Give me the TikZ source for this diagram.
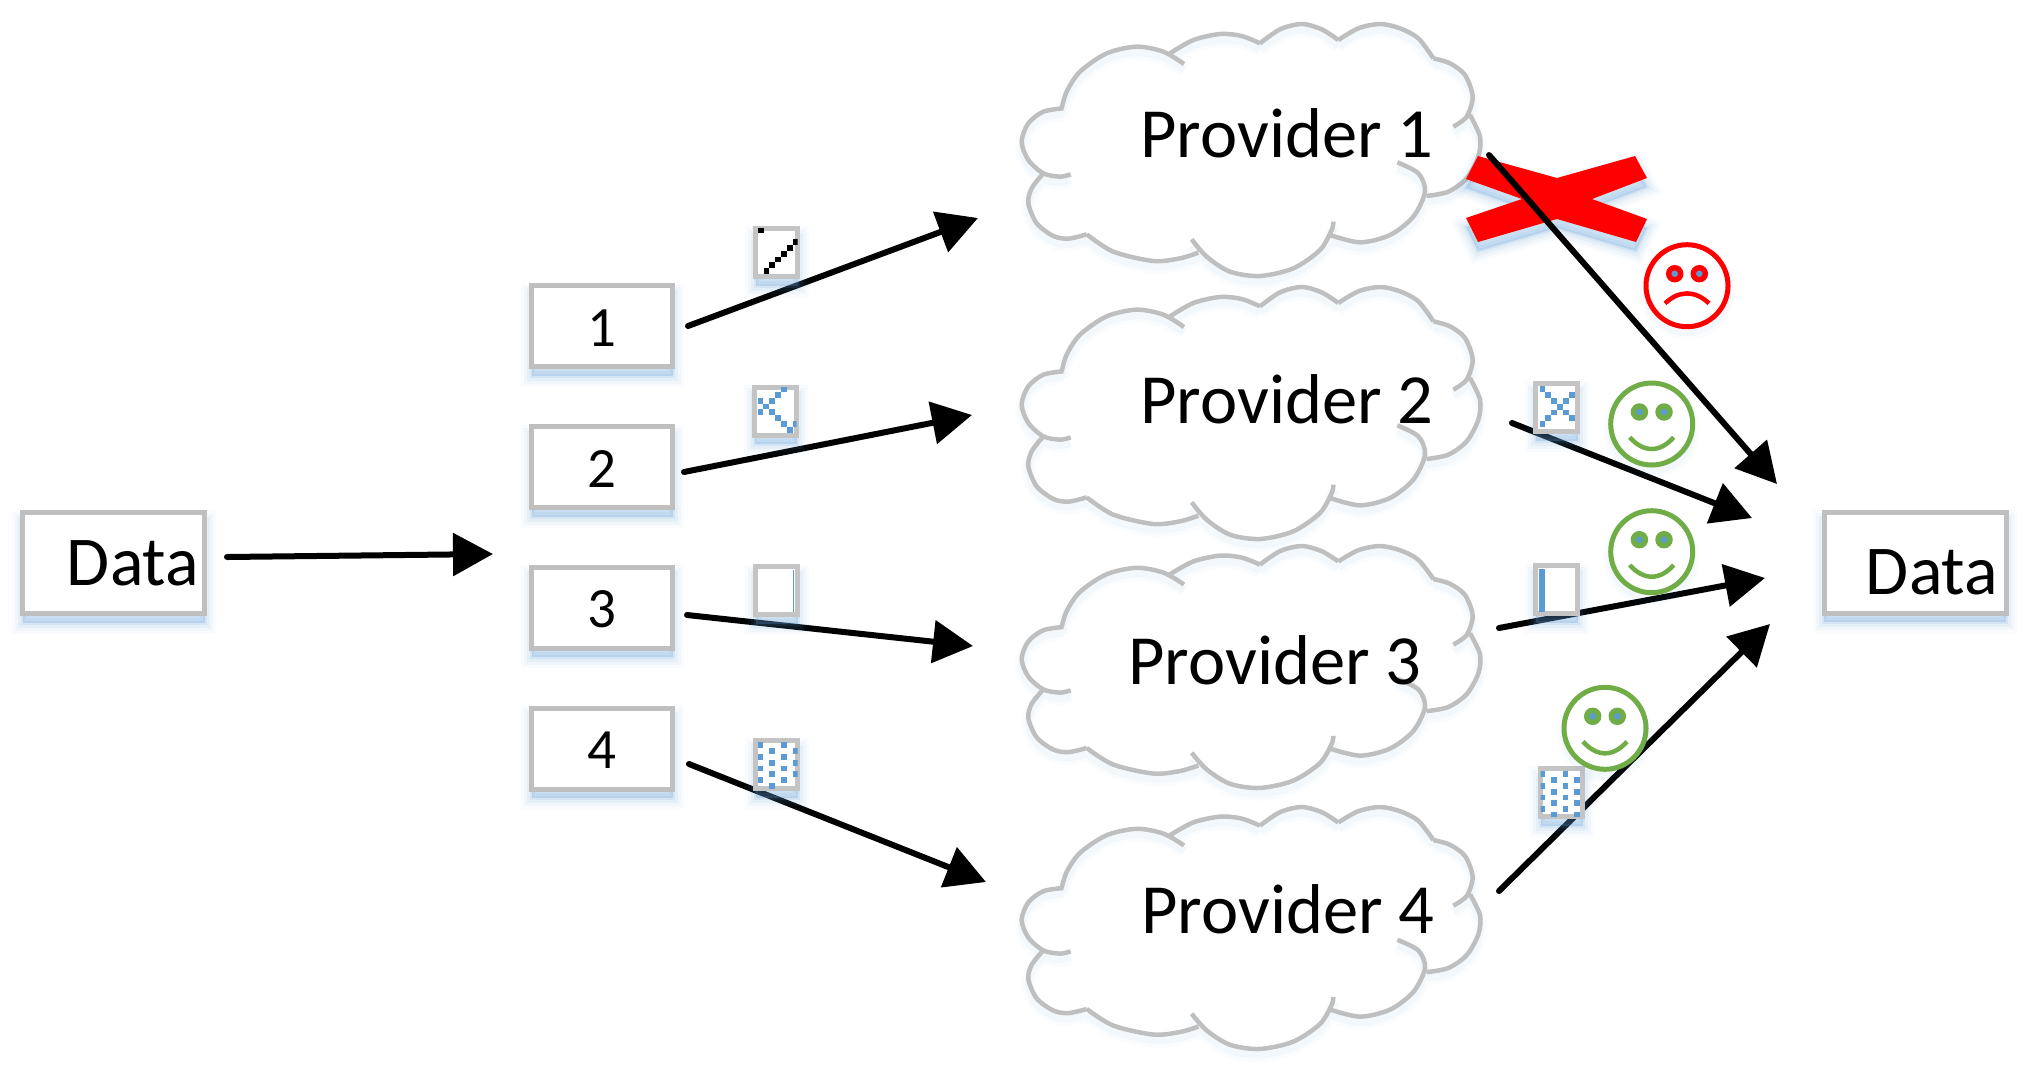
\documentclass[tikz,border=0pt]{standalone}
\usepackage{fontspec}
\setmainfont{Carlito}
\usetikzlibrary{arrows.meta,calc}

\definecolor{linegray}{HTML}{BFBFBF}
\definecolor{boxgray}{HTML}{C4C4C4}
\definecolor{officeblue}{HTML}{5B9BD5}
\definecolor{facegreen}{HTML}{70AD47}

\tikzset{
    softshade/.style={
        preaction={draw=officeblue,fill=officeblue,opacity=.035,line width=22pt,transform canvas={yshift=-9pt}},
        preaction={draw=officeblue,fill=officeblue,opacity=.05,line width=16pt,transform canvas={yshift=-9pt}},
        preaction={draw=officeblue,fill=officeblue,opacity=.08,line width=10pt,transform canvas={yshift=-9pt}},
        preaction={draw=officeblue,fill=officeblue,opacity=.12,line width=4pt,transform canvas={yshift=-9pt}}
    },
    faintshade/.style={
        preaction={draw=officeblue,opacity=.03,line width=14pt,transform canvas={yshift=-6pt}},
        preaction={draw=officeblue,opacity=.04,line width=7pt,transform canvas={yshift=-6pt}}
    },
    databox/.style={draw=linegray,fill=white,line width=5pt,inner sep=0pt,minimum width=182pt,minimum height=101pt,
        font=\fontsize{70pt}{74pt}\selectfont,softshade},
    partbox/.style={draw=linegray,fill=white,line width=5pt,inner sep=0pt,minimum width=141pt,minimum height=81pt,
        text height=60.5pt,text depth=20.5pt,font=\fontsize{57pt}{60pt}\selectfont,softshade},
    chunk/.style={draw=boxgray,fill=white,line width=5pt,inner sep=0pt,minimum width=42pt,minimum height=48pt,softshade},
    arr/.style={line width=6pt,line cap=round,-{Triangle[length=40pt,width=42pt]}},
    cloudline/.style={draw=linegray,line width=4.5pt},
    label/.style={anchor=base,inner sep=0pt,font=\fontsize{70.5pt}{74pt}\selectfont},
    face/.style={circle,draw=#1,line width=5pt,fill=white,inner sep=0pt,minimum size=82pt,faintshade},
    cloudshape/.pic={
        \draw[cloudline,faintshade,scale=1/3]
            plot[smooth] coordinates {(190,325) (130,335) (85,370) (65,425) (85,480) (130,520) (180,530) (212,523)}
            plot[smooth] coordinates {(130,520) (95,565) (85,610) (110,670) (160,708) (205,716) (260,703)}
            plot[smooth] coordinates {(260,703) (340,755) (460,783) (540,775) (595,758)}
            plot[smooth] coordinates {(575,718) (620,770) (690,815) (780,828) (880,805) (960,750) (995,690) (1000,665)}
            plot[smooth] coordinates {(990,705) (1080,727) (1170,705) (1240,650) (1275,575) (1255,520) (1192,487)}
            plot[smooth] coordinates {(1280,588) (1345,575) (1400,535) (1435,470) (1440,410) (1410,345)}
            plot[smooth] coordinates {(1360,380) (1400,350) (1418,290) (1395,225) (1350,190) (1300,175)}
            plot[smooth] coordinates {(1300,175) (1255,115) (1200,85) (1140,72) (1075,85) (1015,120)}
            plot[smooth] coordinates {(1015,120) (965,88) (905,72) (840,88) (780,130)}
            plot[smooth] coordinates {(780,130) (725,108) (660,102) (580,120) (510,160)}
            plot[smooth] coordinates {(552,192) (490,155) (410,140) (320,160) (240,215) (200,275) (185,325)};
    }
}

% dots inside a chunk: node, colour, first dot, list of grid steps
\newcommand{\chunkdots}[5]{
    \begin{scope}
        \clip ([shift={(2.5,2.5)}]#1.north west) rectangle ([shift={(-2.5,-2.5)}]#1.south east);
        \foreach \c/\r in {#5}
            \fill[#2] ($(#1)+(#3+\c*5.83-2.9,#4+\r*5.83-2.9)$) rectangle +(5.8,5.8);
    \end{scope}
}
% eyes and mouth of a face: node, colour, mouth end y, mouth control y
\newcommand{\facemarks}[4]{
    \filldraw[draw=#2,fill=officeblue,line width=5.4pt] ($(#1)+(-12.3,-12)$) circle (6pt);
    \filldraw[draw=#2,fill=officeblue,line width=5.4pt] ($(#1)+(12.3,-12)$) circle (6pt);
    \draw[#2,line width=4.5pt] ($(#1)+(-22,#3)$) .. controls ($(#1)+(-8,#4)$) and ($(#1)+(8,#4)$) .. ($(#1)+(22,#3)$);
}

\begin{document}
\begin{tikzpicture}[x=1pt,y=-1pt]
    \useasboundingbox (0,0) rectangle (2035,1080);

    \foreach \dy/\ys in {0/1,263/1,523/.96,784/.96} {
        \pic[yscale=\ys] at (1000,\dy) {cloudshape};
    }
    \node[label] (p1) at (1287,157)  {Provider 1};
    \node[label] (p2) at (1287,423)  {Provider 2};
    \node[label] (p3) at (1275,684)  {Provider 3};
    \node[label] (p4) at (1288,933)  {Provider 4};

    \fill[red,softshade] (1478,156) -- (1557,178) -- (1635,156) -- (1647,178) -- (1592,199) -- (1647,219)
        -- (1636,242) -- (1557,219) -- (1478,242) -- (1466,218) -- (1522,199) -- (1466,179) -- cycle;

    \node[databox,text height=72.5pt,text depth=28.5pt] (in) at (113.5,563) {\hspace*{39pt}Data};
    \node[databox,text height=82pt,text depth=19pt] (out) at (1915,562.5) {\hspace*{34pt}Data};

    \node[partbox] (n1) at (602,326) {1};
    \node[partbox] (n2) at (602,467) {2};
    \node[partbox] (n3) at (602,607.5) {3};
    \node[partbox] (n4) at (602,748.5) {4};

    \coordinate (split) at (493,554);
    \coordinate (e1) at (978,218);
    \coordinate (e2) at (972,415);
    \coordinate (e3) at (973,646);
    \coordinate (e4) at (986,882);
    \coordinate (s1) at (1489,155);
    \coordinate (s2) at (1512,423);
    \coordinate (s3) at (1499,628);
    \coordinate (s4) at (1499,891);
    \coordinate (t1) at (1777,484);
    \coordinate (t2) at (1752,518);
    \coordinate (t3) at (1765,578);
    \coordinate (t4) at (1770,624);

    \draw[arr] ([shift={(20,-6)}]in.east) -- (split);
    \draw[arr] ([shift={(13,0)}]n1.east) -- (e1);
    \draw[arr] ([shift={(9,5)}]n2.east) -- (e2);
    \draw[arr] ([shift={(12,7.5)}]n3.east) -- (e3);
    \draw[arr] ([shift={(14,15.5)}]n4.east) -- (e4);
    \draw[arr] (s1) -- (t1);
    \draw[arr] (s2) -- (t2);
    \draw[arr] (s3) -- (t3);
    \draw[arr] (s4) -- (t4);

    \node[chunk] (c1) at (776.5,252.5) {};
    \node[chunk] (c2) at (775.5,411)   {};
    \node[chunk] (c3) at (776.5,590.5) {};
    \node[chunk] (c4) at (776.5,764.5) {};
    \node[chunk] (c5) at (1556.5,407.5) {};
    \node[chunk] (c6) at (1556.5,589.5) {};
    \node[chunk] (c7) at (1561.5,792.5) {};

    \chunkdots{c1}{black}{-10}{18.7}{0/0,1/-1,2/-2,3/-3,4/-4,5/-5,-1/-7}
    \chunkdots{c2}{officeblue}{-15}{-22}{0/2,1/3,0/4,2/2,3/1,4/0,2/4,3/5,4/6,5/7,6/6}
    \fill[officeblue] ($(c3)+(16,-21)$) rectangle +(1.2,42);
    \chunkdots{c4}{officeblue}{-16}{-19.3}{0/0,0/2,0/4,0/6,2/1,2/3,2/5,2/7,4/0,4/2,4/4,4/6,6/1,6/3,6/5}
    \chunkdots{c5}{officeblue}{-14}{-18.3}{0/0,1/1,2/2,3/3,4/4,5/5,5/1,4/2,2/4,1/5,0/6}
    \fill[officeblue] ($(c6)+(-17.5,-21)$) rectangle +(6,43);
    \chunkdots{c7}{officeblue}{-19.3}{-18.3}{0/0,0/2,0/4,0/6,2/1,2/3,2/5,2/7,4/0,4/2,4/4,4/6,6/1,6/3,6/5,6/7}

    \node[face=red] (f1) at (1687,285.7) {};
    \node[face=facegreen] (f2) at (1651.7,424) {};
    \node[face=facegreen] (f3) at (1651.7,551.7) {};
    \node[face=facegreen] (f4) at (1605,728.3) {};
    \facemarks{f1}{red}{17.7}{4.4}
    \facemarks{f2}{facegreen}{13.3}{28.9}
    \facemarks{f3}{facegreen}{13.3}{28.9}
    \facemarks{f4}{facegreen}{13.3}{28.9}
\end{tikzpicture}
\end{document}
